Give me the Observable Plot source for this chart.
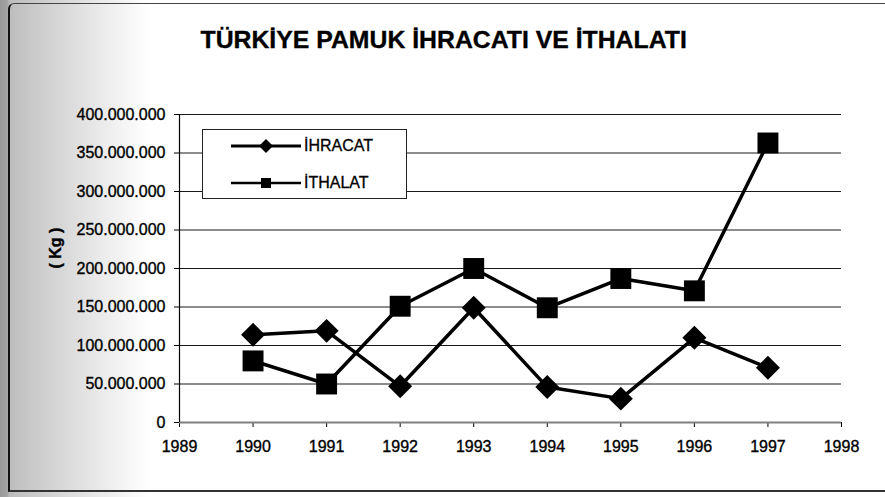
<!DOCTYPE html>
<html>
<head>
<meta charset="utf-8">
<script src="https://cdn.jsdelivr.net/npm/d3@7"></script>
<script src="https://cdn.jsdelivr.net/npm/@observablehq/plot@0.6"></script>
<style>
  html, body { margin: 0; padding: 0; background: #fff; }
  #wrap {
    position: relative; width: 885px; height: 497px; overflow: hidden;
    background: linear-gradient(to right, #999 0px, #a4a4a4 7px, #bdbdbd 10px, #cdcdcd 40px, #dedede 75px, #eeeeee 110px, #f9f9f9 135px, #ffffff 150px);
    font-family: "Liberation Sans", Arial, sans-serif;
  }
  #wrap svg.plot { position: absolute; left: 0; top: 0; background: transparent; }
  #wrap svg.plot text { stroke: #000; stroke-width: 0.35px; }
  #frame {
    position: absolute; left: 8px; top: 3px; width: 885px; height: 486px;
    border-left: 2px solid #111; border-top: 1px solid #444; border-bottom: 2px solid #333;
    border-top-left-radius: 6px; pointer-events: none;
  }
  #plotbg { position: absolute; left: 179px; top: 114px; width: 662px; height: 308px; background: #fff; }
  #legend {
    position: absolute; left: 202px; top: 129px; width: 205px; height: 70px;
    background: #fff; border: 1px solid #222; box-sizing: border-box;
  }
  #legend svg { position: absolute; left: 0; top: 0; }
  #legend .lab { position: absolute; left: 101px; font-size: 16px; color: #000; line-height: 16px; -webkit-text-stroke: 0.3px #000; }
</style>
</head>
<body>
<div id="wrap">
  <div id="plotbg"></div>
  <div id="frame"></div>
</div>
<script>
const title = "TÜRKİYE PAMUK İHRACATI VE İTHALATI";
const yLabel = "( Kg )";
const years = [1990, 1991, 1992, 1993, 1994, 1995, 1996, 1997];
const ihracat = [114000000, 119000000, 47000000, 149000000, 46000000, 31000000, 110000000, 71000000];
const ithalat = [80000000, 50000000, 151000000, 200000000, 149000000, 187000000, 171000000, 363000000];
const xTicks = [1989, 1990, 1991, 1992, 1993, 1994, 1995, 1996, 1997, 1998];
const yTicks = [0, 50000000, 100000000, 150000000, 200000000, 250000000, 300000000, 350000000, 400000000];
const seriesNames = ["İHRACAT", "İTHALAT"];

const trFmt = d3.formatLocale({decimal: ",", thousands: ".", grouping: [3], currency: ["", ""]}).format(",d");

const exp = years.map((y, i) => ({year: y, value: ihracat[i]}));
const imp = years.map((y, i) => ({year: y, value: ithalat[i]}));

const chart = Plot.plot({
  width: 885,
  height: 497,
  marginLeft: 179,
  marginRight: 44,
  marginTop: 114,
  marginBottom: 75,
  style: {fontFamily: "'Liberation Sans', Arial, sans-serif", fontSize: "16px", color: "#000", background: "transparent", overflow: "visible"},
  x: {domain: [1989, 1998], axis: null},
  y: {domain: [0, 400000000], axis: null},
  marks: [
    Plot.ruleY(yTicks.filter(d => d > 0), {stroke: "#000", strokeWidth: 1, strokeOpacity: 0.9}),
    Plot.axisY({ticks: yTicks, tickFormat: trFmt, tickSize: 5, tickPadding: 9, fontSize: 16, label: null, stroke: "#000"}),
    Plot.axisX({ticks: xTicks, tickFormat: d => String(d), tickSize: 5, tickPadding: 13, fontSize: 16, label: null, stroke: "#000"}),
    Plot.ruleY([0], {stroke: "#808080", strokeWidth: 2}),
    Plot.ruleX([1989], {stroke: "#000", strokeWidth: 1.2}),
    Plot.line(imp, {x: "year", y: "value", stroke: "#000", strokeWidth: 3.5}),
    Plot.line(exp, {x: "year", y: "value", stroke: "#000", strokeWidth: 3.5}),
    Plot.dot(imp, {x: "year", y: "value", symbol: "square", r: 11.8, fill: "#000", stroke: "#000", strokeWidth: 0}),
    Plot.dot(exp, {x: "year", y: "value", symbol: "diamond2", r: 10.8, fill: "#000", stroke: "#000", strokeWidth: 0}),
    Plot.text([yLabel], {frameAnchor: "left", dx: -124, rotate: -90, fontSize: 16, fontWeight: "bold", fill: "#000"}),
    Plot.text([title], {frameAnchor: "top-left", dx: 21, dy: -67, textAnchor: "start", lineAnchor: "bottom", fontSize: 24.8, fontWeight: "bold", fill: "#000"})
  ]
});
chart.classList.add("plot");
document.getElementById("wrap").insertBefore(chart, document.getElementById("frame"));

// legend
const leg = document.createElement("div");
leg.id = "legend";
leg.innerHTML = `
<svg width="205" height="70">
  <line x1="28" x2="98" y1="16" y2="16" stroke="#000" stroke-width="3"/>
  <path d="M63,9 L70,16 L63,23 L56,16 Z" fill="#000"/>
  <line x1="28" x2="98" y1="53" y2="53" stroke="#000" stroke-width="2.5"/>
  <rect x="58" y="48" width="10" height="10" fill="#000"/>
</svg>
<div class="lab" style="top:8px">${seriesNames[0]}</div>
<div class="lab" style="top:45px">${seriesNames[1]}</div>`;
document.getElementById("wrap").appendChild(leg);
</script>
</body>
</html>
